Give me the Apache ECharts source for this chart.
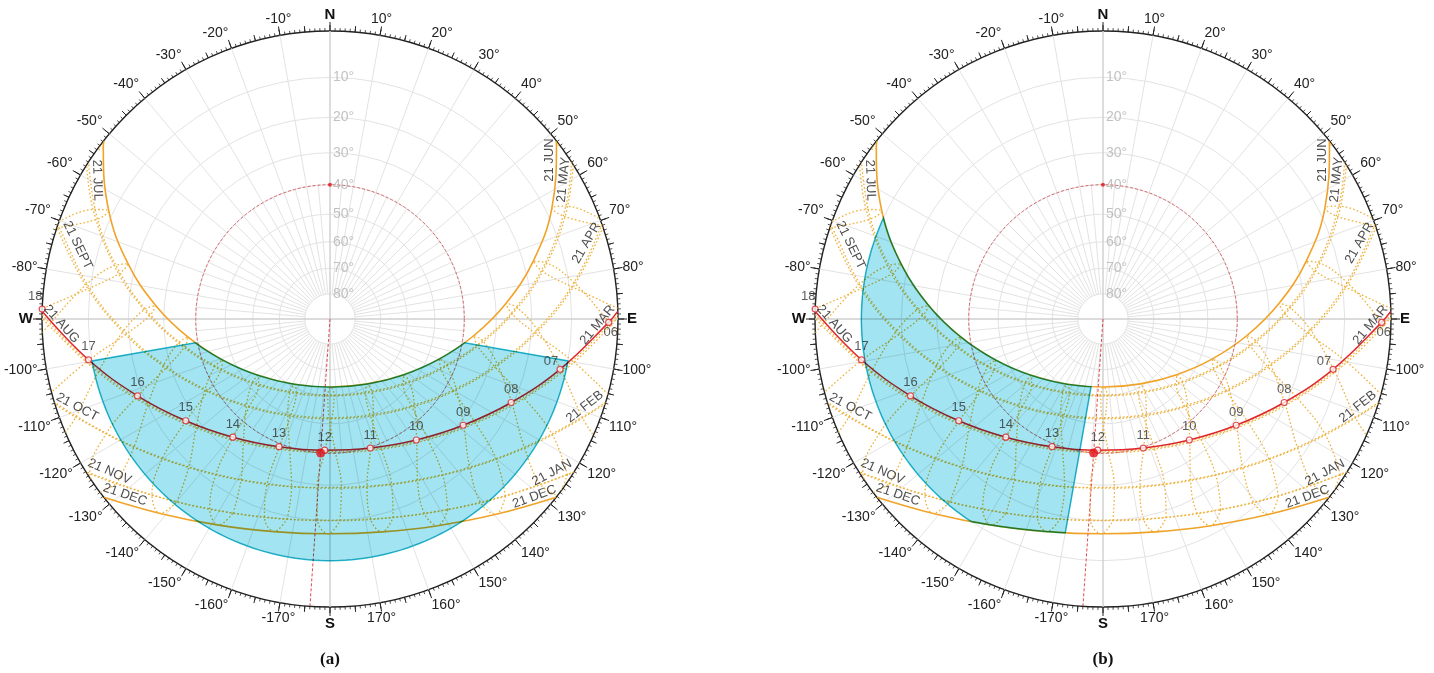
<!DOCTYPE html>
<html>
<head>
<meta charset="utf-8">
<script src="https://cdn.jsdelivr.net/npm/echarts@6/dist/echarts.min.js"></script>
<style>
html,body{margin:0;padding:0;background:#fff;}
#main{width:1434px;height:673px;}
</style>
</head>
<body>
<div id="main"></div>
<script>
// site latitude, read from the equinox noon altitude (40 deg)
var latitude = 50;

// 21st of each month: label, declination (deg), equation of time (min)
var monthNames = ['21 JAN','21 FEB','21 MAR','21 APR','21 MAY','21 JUN','21 JUL','21 AUG','21 SEPT','21 OCT','21 NOV','21 DEC'];
var monthDecl = [-20.0, -10.9, 0.2, 11.8, 20.1, 23.44, 20.5, 12.2, 0.6, -10.7, -19.9, -23.44];
var monthEoT = [-11.3, -13.8, -7.3, 1.2, 3.5, -1.6, -6.3, -3.1, 6.9, 15.4, 14.1, 1.9];

// clock hours of the hour lines
var gridHours = [4,5,6,7,8,9,10,11,12,13,14,15,16,17,18,19,20];

// highlighted day (red path) and its marked hours
var dayDecl = 1.0;
var dayEoT = 7.0;
var dayHours = [6,7,8,9,10,11,12,13,14,15,16,17,18];
var dayHourLabels = ['06','07','08','09','10','11','12','13','14','15','16','17','18'];

// current sun position
var sunNowAz = 184;
var sunNowAlt = 40;

// altitude rings
var altRings = [10,20,30,40,50,60,70,80];
var altLabels = ['10°','20°','30°','40°','50°','60°','70°','80°'];

// shaded zones
var zoneA = {azFrom: 100, azTo: 260, altMin: 10};   // under 21 JUN, above 10 deg
var zoneB = {azEdge: 190, altMin: 10};              // between 21 DEC and 21 JUN, west of az 190

// where the date names sit (az, alt, rotation) - layout only
var dateLabelSpots = [
  ['21 JUN', 54.1, 3.5, 90], ['21 MAY', 59.2, 3.3, 84], ['21 APR', 73.5, 4.2, 60],
  ['21 MAR', 91.3, 4.2, 50], ['21 FEB', 109.0, 3.8, 38], ['21 JAN', 124.7, 3.7, 28],
  ['21 DEC', 131.0, 3.5, 20], ['21 JUL', 300.8, 3.5, -88], ['21 SEPT', 286.3, 5.2, -64],
  ['21 AUG', 268.9, 4.0, -48], ['21 OCT', 250.8, 4.2, -28], ['21 NOV', 235.3, 4.1, -24],
  ['21 DEC', 229.4, 3.7, -19]
];
var dayLabelPos = ['bottom','top','top','top','top','top','top','top','top','top','top','top','top'];
var dayLabelOff = [[2,-3],[-9,5],[0,0],[0,0],[0,0],[0,0],[0,0],[0,0],[0,0],[0,0],[0,0],[0,0],[-7,0]];

var FONT = 'Arial, "Liberation Sans", sans-serif';
var D = Math.PI / 180;

function sunPos(decl, H) {
  var p = latitude * D, d = decl * D, h = H * D;
  var sa = Math.sin(p) * Math.sin(d) + Math.cos(p) * Math.cos(d) * Math.cos(h);
  var e = -Math.cos(d) * Math.sin(h);
  var n = Math.cos(p) * Math.sin(d) - Math.sin(p) * Math.cos(d) * Math.cos(h);
  var az = Math.atan2(e, n) / D;
  if (az < 0) az += 360;
  return {alt: Math.asin(sa) / D, az: az};
}
function hourAngle(clock, eot) { return 15 * (clock + eot / 60 - 12); }
// stereographic radius, horizon = 1
function proj(alt, az) { return [Math.tan((90 - alt) / 2 * D), az]; }
function halfDay(decl) { return Math.acos(-Math.tan(latitude * D) * Math.tan(decl * D)) / D; }
function bisect(f, a, b) {
  var fa = f(a);
  for (var i = 0; i < 60; i++) {
    var m = (a + b) / 2, fm = f(m);
    if ((fm < 0) === (fa < 0)) { a = m; fa = fm; } else { b = m; }
  }
  return (a + b) / 2;
}

// a day's path through its clock-hour points, ending on the horizon
function datePath(decl, eot) {
  var H0 = halfDay(decl);
  var pts = [proj(0, sunPos(decl, -H0).az)];
  gridHours.forEach(function (c) {
    var H = hourAngle(c, eot);
    if (H > -H0 && H < H0) {
      var s = sunPos(decl, H);
      pts.push(proj(s.alt, s.az));
    }
  });
  pts.push(proj(0, sunPos(decl, H0).az));
  return pts;
}

// an hour line through the twelve monthly points, cut at the horizon
function hourLoop(clock) {
  var out = [], n = 12;
  function at(i, t) {
    var j = (i + 1) % n;
    var d = monthDecl[i] + (monthDecl[j] - monthDecl[i]) * t;
    var e = monthEoT[i] + (monthEoT[j] - monthEoT[i]) * t;
    return sunPos(d, hourAngle(clock, e));
  }
  for (var i = 0; i < n; i++) {
    var a = at(i, 0), b = at(i, 1);
    if (a.alt >= 0) out.push(proj(a.alt, a.az));
    if ((a.alt >= 0) !== (b.alt >= 0)) {
      var t = bisect(function (t) { return at(i, t).alt; }, 0, 1);
      out.push(proj(0, at(i, t).az));
      if (a.alt >= 0) out.push(['-', '-']);
    }
  }
  var f = at(0, 0);
  if (f.alt >= 0) out.push(proj(f.alt, f.az));
  return out;
}

function hAtAz(decl, az, sign) {
  var H0 = halfDay(decl) * 0.9999 * sign;
  return bisect(function (H) { return sunPos(decl, H).az - az; }, 0, H0);
}
function hAtAlt(decl, alt, sign) {
  var H0 = halfDay(decl) * 0.9999 * sign;
  return bisect(function (H) { return sunPos(decl, H).alt - alt; }, 0, H0);
}
function pathPts(decl, h1, h2, out) {
  var steps = 60;
  for (var i = 0; i <= steps; i++) {
    var s = sunPos(decl, h1 + (h2 - h1) * i / steps);
    out.push(proj(s.alt, s.az));
  }
}
function arcPts(alt, az1, az2, out) {
  var steps = Math.max(2, Math.round(Math.abs(az2 - az1) / 1.5));
  for (var i = 0; i <= steps; i++) out.push(proj(alt, az1 + (az2 - az1) * i / steps));
}

var jun = monthDecl[5], dec = monthDecl[11];

function outlineA() {
  var pts = [];
  pathPts(jun, hAtAz(jun, zoneA.azFrom, -1), hAtAz(jun, zoneA.azTo, 1), pts);
  arcPts(zoneA.altMin, zoneA.azTo, zoneA.azFrom, pts);
  return pts;
}
function outlineB() {
  var pts = [];
  var h1 = hAtAz(jun, zoneB.azEdge, 1), h2 = hAtAlt(jun, zoneB.altMin, 1);
  pathPts(jun, h1, h2, pts);
  var h3 = hAtAlt(dec, zoneB.altMin, 1);
  arcPts(zoneB.altMin, sunPos(jun, h2).az, sunPos(dec, h3).az, pts);
  pathPts(dec, h3, hAtAz(dec, zoneB.azEdge, 1), pts);
  return pts;
}

function azLabel(v) {
  if (v === 0) return '{c|N}';
  if (v === 90) return '{c|E}';
  if (v === 180) return '{c|S}';
  if (v === 270) return '{c|W}';
  if (v >= 360) return '';
  return (v < 180 ? v : v - 360) + '°';
}

function gridRender(params, api) {
  var c = api.coord([0, 0]);
  var kids = [];
  altRings.forEach(function (a) {
    var p = api.coord(proj(a, 0));
    kids.push({type: 'circle', shape: {cx: c[0], cy: c[1], r: Math.hypot(p[0] - c[0], p[1] - c[1])},
      style: {fill: 'none', stroke: '#e3e3e3', lineWidth: 1}});
  });
  for (var az = 0; az < 360; az += 5) {
    if (az % 90 === 0) continue;
    var p1 = api.coord(proj(az % 10 === 0 ? 0 : 40, az)), p2 = api.coord(proj(80, az));
    kids.push({type: 'line', shape: {x1: p1[0], y1: p1[1], x2: p2[0], y2: p2[1]},
      style: {stroke: '#e3e3e3', lineWidth: 1}});
  }
  [[0, 180], [90, 270]].forEach(function (pr) {
    var a = api.coord(proj(0, pr[0])), b = api.coord(proj(0, pr[1]));
    kids.push({type: 'line', shape: {x1: a[0], y1: a[1], x2: b[0], y2: b[1]},
      style: {stroke: '#cfcfcf', lineWidth: 1.4}});
  });
  return {type: 'group', children: kids};
}

function buildPanel(k, outline) {
  var pi = 2 * k;
  var s = [];
  s.push({type: 'custom', coordinateSystem: 'polar', polarIndex: pi, silent: true, z: 1,
    data: [[0, 0]], renderItem: gridRender});

  monthDecl.forEach(function (d, i) {
    var solid = (i === 5 || i === 11);
    s.push({type: 'line', coordinateSystem: 'polar', polarIndex: pi, silent: true, z: 2,
      data: datePath(d, monthEoT[i]), smooth: 0.4, symbol: 'none',
      lineStyle: solid ? {color: '#f0a328', width: 1.6} : {color: '#eeb23c', width: 1.3, type: [1.6, 2.2]}});
  });
  gridHours.forEach(function (h) {
    s.push({type: 'line', coordinateSystem: 'polar', polarIndex: pi, silent: true, z: 2,
      data: hourLoop(h), smooth: 0.4, symbol: 'none',
      lineStyle: {color: '#eeb23c', width: 1.3, type: [1.6, 2.2]}});
  });

  s.push({type: 'line', coordinateSystem: 'polar', polarIndex: pi, silent: true, z: 3,
    data: datePath(dayDecl, dayEoT), smooth: 0.4, symbol: 'none',
    lineStyle: {color: '#e0262c', width: 1.5}});
  s.push({type: 'line', coordinateSystem: 'polar', polarIndex: pi, silent: true, z: 3,
    data: [[0, sunNowAz], [1, sunNowAz]], symbol: 'none',
    lineStyle: {color: '#e04a4a', width: 1, type: [3, 2]}});
  s.push({type: 'custom', coordinateSystem: 'polar', polarIndex: pi, silent: true, z: 3,
    data: [proj(sunNowAlt, 0)],
    renderItem: function (params, api) {
      var c = api.coord([0, 0]), p = api.coord([api.value(0), 0]);
      return {type: 'circle', shape: {cx: c[0], cy: c[1], r: Math.hypot(p[0] - c[0], p[1] - c[1])},
        style: {fill: 'none', stroke: '#d9646a', lineWidth: 1, lineDash: [3, 2]}};
    }});

  var pts = outline();
  s.push({type: 'custom', coordinateSystem: 'polar', polarIndex: pi, silent: true, z: 4,
    blendMode: 'multiply',
    data: [[0, 0]],
    renderItem: function (params, api) {
      return {type: 'polygon', shape: {points: pts.map(function (p) { return api.coord(p); })},
        style: {fill: '#a2e4f1', stroke: '#2cc6dc', lineWidth: 1.5}};
    }});

  s.push({type: 'scatter', coordinateSystem: 'polar', polarIndex: pi, silent: true, z: 5,
    symbol: 'circle', symbolSize: 6,
    itemStyle: {color: '#fff', borderColor: '#d8282e', borderWidth: 1.2},
    label: {show: true, color: '#333', fontSize: 13, fontFamily: FONT, distance: 3},
    data: dayHours.map(function (h, i) {
      var p = sunPos(dayDecl, hourAngle(h, dayEoT));
      return {value: proj(Math.max(p.alt, 0), p.az),
        label: {formatter: dayHourLabels[i], position: dayLabelPos[i], offset: dayLabelOff[i]}};
    })});

  s.push({type: 'scatter', coordinateSystem: 'polar', polarIndex: pi, silent: true, z: 6,
    symbol: 'circle', itemStyle: {color: '#e3121a'},
    data: [{value: proj(sunNowAlt, sunNowAz), symbolSize: 9}, {value: proj(sunNowAlt, 0), symbolSize: 4}]});

  s.push({type: 'scatter', coordinateSystem: 'polar', polarIndex: pi, silent: true, z: 5,
    symbolSize: 0,
    label: {show: true, position: 'right', distance: 3, color: '#b3b3b3', fontSize: 14, fontFamily: FONT,
      formatter: function (p) { return altLabels[p.dataIndex]; }},
    data: altRings.map(function (a) { return proj(a, 0); })});

  s.push({type: 'scatter', coordinateSystem: 'polar', polarIndex: pi, silent: true, z: 5,
    symbolSize: 0,
    data: dateLabelSpots.map(function (d) {
      return {value: proj(d[2], d[1]),
        label: {show: true, position: 'inside', formatter: d[0], rotate: d[3],
          color: '#222', fontSize: 13, fontFamily: FONT}};
    })});
  return s;
}

var centers = [[330, 319], [1103, 319]];
var polar = [], angleAxis = [], radiusAxis = [];
centers.forEach(function (c, k) {
  polar.push({center: c, radius: 288});
  polar.push({center: c, radius: 288});
  angleAxis.push({polarIndex: 2 * k, type: 'value', min: 0, max: 360, interval: 10,
    startAngle: 90, clockwise: true,
    axisLine: {lineStyle: {color: '#222', width: 1.4}},
    axisTick: {length: 9, lineStyle: {color: '#222', width: 1}},
    minorTick: {show: true, splitNumber: 10, length: 3, lineStyle: {color: '#222', width: 0.8}},
    axisLabel: {margin: 9, color: '#222', fontSize: 14, fontFamily: FONT, formatter: azLabel,
      rich: {c: {fontSize: 15, fontWeight: 'bold', color: '#111', fontFamily: FONT}}},
    splitLine: {show: false}});
  angleAxis.push({polarIndex: 2 * k + 1, type: 'value', min: 0, max: 360, interval: 5,
    startAngle: 90, clockwise: true,
    axisLine: {show: false},
    axisTick: {length: 6, lineStyle: {color: '#222', width: 1}},
    axisLabel: {show: false}, splitLine: {show: false}});
  [0, 1].forEach(function (j) {
    radiusAxis.push({polarIndex: 2 * k + j, type: 'value', min: 0, max: 1,
      axisLine: {show: false}, axisTick: {show: false}, axisLabel: {show: false}, splitLine: {show: false}});
  });
});

var series = buildPanel(0, outlineA).concat(buildPanel(1, outlineB));

var chart = echarts.init(document.getElementById('main'), null, {renderer: 'canvas'});
chart.setOption({
  animation: false,
  backgroundColor: '#fff',
  polar: polar,
  angleAxis: angleAxis,
  radiusAxis: radiusAxis,
  series: series,
  graphic: [
    {type: 'text', x: 330, y: 660, style: {text: '(a)', font: 'bold 17px "Liberation Serif", serif', fill: '#111', align: 'center', verticalAlign: 'middle'}},
    {type: 'text', x: 1103, y: 660, style: {text: '(b)', font: 'bold 17px "Liberation Serif", serif', fill: '#111', align: 'center', verticalAlign: 'middle'}}
  ]
});
</script>
</body>
</html>
